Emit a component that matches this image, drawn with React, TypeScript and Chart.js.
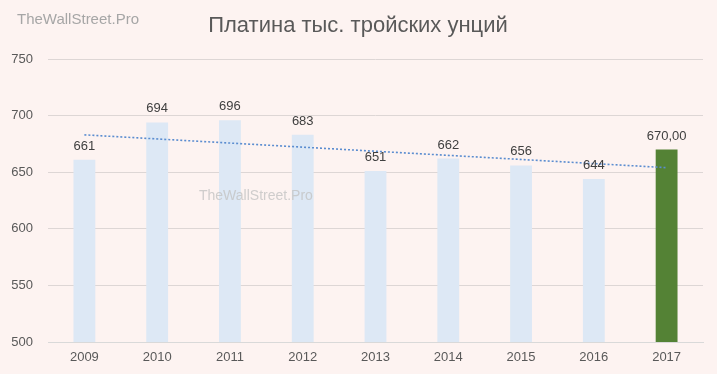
import React, { useEffect, useRef } from "react";
import { Chart, registerables } from "chart.js";

Chart.register(...registerables);

const categories = ["2009", "2010", "2011", "2012", "2013", "2014", "2015", "2016", "2017"];
const values = [661, 694, 696, 683, 651, 662, 656, 644, 670];
const trendValues = [683, null, null, null, null, null, null, null, 654];
const yTicks = [500, 550, 600, 650, 700, 750];
const title = "Платина тыс. тройских унций";
const watermark = "TheWallStreet.Pro";

const BG = "#FDF3F1";
const LIGHT = "#DDE8F5";
const GREEN = "#548235";

const FONT = "'Liberation Sans', Arial, sans-serif";

export default function App() {
  const ref = useRef<HTMLCanvasElement | null>(null);

  useEffect(() => {
    const canvas = ref.current;
    if (!canvas) return;

    const decor = {
      id: "decor",
      beforeDraw(chart: any) {
        const { ctx, width, height } = chart;
        ctx.save();
        ctx.fillStyle = BG;
        ctx.fillRect(0, 0, width, height);
        ctx.fillStyle = "#595959";
        ctx.font = `22px ${FONT}`;
        ctx.textAlign = "center";
        ctx.textBaseline = "middle";
        ctx.fillText(title, 358, 26);
        ctx.fillStyle = "#A6A6A6";
        ctx.font = `15px ${FONT}`;
        ctx.textAlign = "left";
        ctx.fillText(watermark, 17, 20);
        ctx.restore();
      },
      afterDatasetsDraw(chart: any) {
        const { ctx } = chart;
        ctx.save();
        ctx.fillStyle = "rgba(195,195,195,0.8)";
        ctx.font = `14px ${FONT}`;
        ctx.textAlign = "left";
        ctx.textBaseline = "middle";
        ctx.fillText(watermark, 199, 196);

        const meta = chart.getDatasetMeta(0);
        ctx.fillStyle = "#404040";
        ctx.font = `13px ${FONT}`;
        ctx.textAlign = "center";
        ctx.textBaseline = "alphabetic";
        meta.data.forEach((bar: any, i: number) => {
          const v = values[i];
          const txt = i === values.length - 1 ? v.toFixed(2).replace(".", ",") : String(v);
          ctx.fillText(txt, bar.x, bar.y - 10);
        });
        ctx.restore();
      },
    };

    const chart = new Chart(canvas, {
      data: {
        labels: categories,
        datasets: [
          {
            type: "bar",
            data: values,
            backgroundColor: values.map((_, i) => (i === values.length - 1 ? GREEN : LIGHT)),
            barPercentage: 0.3,
            categoryPercentage: 1,
            order: 2,
          },
          {
            type: "line",
            data: trendValues as any,
            borderColor: "#5B8DD0",
            borderWidth: 1.6,
            borderDash: [2, 2],
            pointRadius: 0,
            spanGaps: true,
            fill: false,
            order: 1,
          },
        ],
      } as any,
      options: {
        responsive: false,
        animation: false,
        layout: { padding: { left: 0, right: 14, top: 59, bottom: 0 } },
        plugins: { legend: { display: false }, tooltip: { enabled: false }, title: { display: false } },
        scales: {
          x: {
            grid: { display: false, drawTicks: false },
            border: { color: "#D9D9D9" },
            ticks: { color: "#595959", font: { family: FONT, size: 13 }, padding: 8 },
            afterFit: (s: any) => { s.height = 32; },
          },
          y: {
            min: 500,
            max: 750,
            afterBuildTicks: (s: any) => { s.ticks = yTicks.map((v) => ({ value: v })); },
            grid: { color: "#DDD6D5", drawTicks: false },
            border: { display: false },
            ticks: { color: "#595959", font: { family: FONT, size: 13 }, padding: 15 },
            afterFit: (s: any) => { s.width = 48; },
          },
        },
      } as any,
      plugins: [decor],
    });
    return () => chart.destroy();
  }, []);

  return (
    <div style={{ position: "fixed", left: 0, top: 0, width: 717, height: 374 }}>
      <canvas ref={ref} width={717} height={374} style={{ display: "block" }} />
    </div>
  );
}
